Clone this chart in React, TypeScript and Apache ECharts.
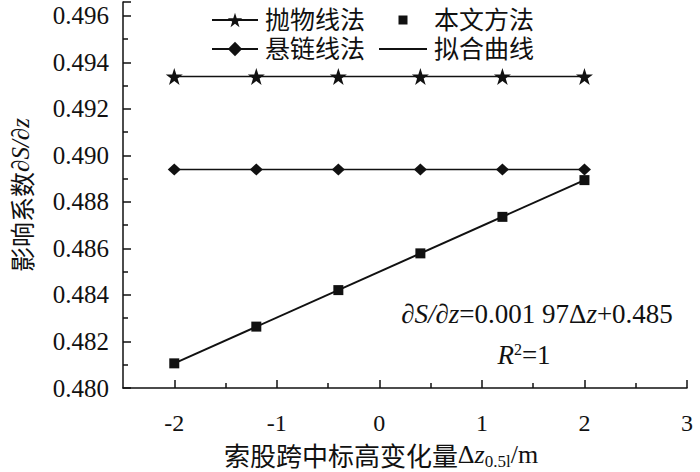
import React, { useEffect, useRef } from "react";
import * as echarts from "echarts";

const xValues = [-2, -1.2, -0.4, 0.4, 1.2, 2];
const parabolaValues = [0.4934, 0.4934, 0.4934, 0.4934, 0.4934, 0.4934];
const catenaryValues = [0.4894, 0.4894, 0.4894, 0.4894, 0.4894, 0.4894];
const methodValues = [0.48106, 0.48264, 0.48421, 0.48579, 0.48736, 0.48894];
const fitX = [-2, 2];
const fitValues = [0.48106, 0.48894];
const xMajorTicks = [-2, -1, 0, 1, 2, 3];
const xMinorTicks = [-1.5, -0.5, 0.5, 1.5, 2.5];

const SERIF = "'Liberation Serif', 'Times New Roman', 'Noto Sans CJK SC', serif";
const CJK = "'Noto Sans CJK SC', 'Liberation Serif', serif";

const pair = (xs: number[], ys: number[]) => xs.map((x, i) => [x, ys[i]]);

export default function App() {
  const ref = useRef<HTMLDivElement>(null);
  useEffect(() => {
    const chart = echarts.init(ref.current!, null, { renderer: "svg" });
    const black = "#111";
    const legendText = { fontFamily: SERIF, fontSize: 25, lineHeight: 26, color: black, padding: [0, 0, 0, 2] };
    chart.setOption({
      animation: false,
      backgroundColor: "#fff",
      grid: { left: 114, right: 13, top: 2, bottom: 84 },
      legend: [
        {
          data: ["抛物线法", "悬链线法"],
          orient: "vertical",
          left: 206,
          top: 2,
          itemWidth: 46,
          itemHeight: 18,
          itemGap: 3,
          textStyle: legendText,
        },
        {
          data: [
            { name: "本文方法", icon: "path://M0,0 L10,0 L10,10 L0,10 Z" },
            { name: "拟合曲线", icon: "path://M0,0 L100,0 L100,4 L0,4 Z" },
          ],
          orient: "vertical",
          left: 374,
          top: 2,
          itemWidth: 48,
          itemHeight: 9,
          itemGap: 3,
          symbolKeepAspect: true,
          textStyle: legendText,
        },
      ],
      xAxis: [
        {
          type: "value",
          min: -2.5,
          max: 3,
          interval: 0.5,
          splitLine: { show: false },
          axisLine: { onZero: false, lineStyle: { color: black, width: 1.5 } },
          axisTick: {
            inside: true,
            length: 8,
            customValues: xMajorTicks,
            lineStyle: { color: black, width: 1.5 },
          },
          axisLabel: {
            margin: 23,
            fontFamily: SERIF,
            fontSize: 24,
            color: black,
            customValues: xMajorTicks,
            formatter: (v: number) => String(v),
          },
        },
        {
          type: "value",
          min: -2.5,
          max: 3,
          interval: 0.5,
          position: "bottom",
          splitLine: { show: false },
          axisLine: { show: false, onZero: false },
          axisTick: {
            inside: true,
            length: 5,
            customValues: xMinorTicks,
            lineStyle: { color: black, width: 1.5 },
          },
          axisLabel: { show: false },
        },
      ],
      yAxis: {
        type: "value",
        min: 0.48,
        max: 0.4966,
        interval: 0.002,
        splitLine: { show: false },
        axisLine: { onZero: false, lineStyle: { color: black, width: 1.5 } },
        axisTick: { inside: true, length: 8, lineStyle: { color: black, width: 1.5 } },
        minorTick: { show: true, splitNumber: 2, length: 5, lineStyle: { color: black, width: 1.5 } },
        axisLabel: {
          margin: 14,
          fontFamily: SERIF,
          fontSize: 25,
          color: black,
          showMaxLabel: false,
          formatter: (v: number) => v.toFixed(3),
        },
        name: "{cn|影响系数}{i|∂S/∂z}",
        nameLocation: "middle",
        nameGap: 90,
        nameTextStyle: {
          rich: {
            cn: { fontFamily: CJK, fontSize: 25, color: black },
            i: { fontFamily: SERIF, fontSize: 25, fontStyle: "italic", color: black },
          },
        },
      },
      series: [
        {
          name: "抛物线法",
          type: "line",
          data: pair(xValues, parabolaValues),
          symbol: "path://M50,0 L61.8,35.3 L99,35.3 L69,57.3 L80.4,92.7 L50,70.8 L19.6,92.7 L31,57.3 L1,35.3 L38.2,35.3 Z",
          symbolSize: 17,
          itemStyle: { color: black },
          lineStyle: { color: black, width: 1.5 },
          z: 3,
        },
        {
          name: "悬链线法",
          type: "line",
          data: pair(xValues, catenaryValues),
          symbol: "diamond",
          symbolSize: [13, 12],
          itemStyle: { color: black },
          lineStyle: { color: black, width: 1.5 },
          z: 3,
        },
        {
          name: "本文方法",
          type: "scatter",
          data: pair(xValues, methodValues),
          symbol: "rect",
          symbolSize: 10,
          itemStyle: { color: black, opacity: 1 },
          z: 4,
        },
        {
          name: "拟合曲线",
          type: "line",
          data: pair(fitX, fitValues),
          symbol: "none",
          itemStyle: { color: black },
          lineStyle: { color: black, width: 2 },
          z: 2,
        },
      ],
      graphic: [
        {
          type: "text",
          x: 381,
          y: 454,
          style: {
            text: "{cn|索股跨中标高变化量}{n|Δ}{i|z}{sub|0.5l}{n|/m}",
            align: "center",
            verticalAlign: "middle",
            rich: {
              cn: { fontFamily: CJK, fontSize: 26, fill: black },
              n: { fontFamily: SERIF, fontSize: 26, fill: black },
              i: { fontFamily: SERIF, fontSize: 26, fontStyle: "italic", fill: black },
              sub: { fontFamily: SERIF, fontSize: 17, fill: black, verticalAlign: "bottom", padding: [14, 0, 0, 0] },
            },
          },
        },
        {
          type: "text",
          x: 537,
          y: 314,
          style: {
            text: "{i|∂S/∂z}{n|=0.001 97Δ}{i|z}{n|+0.485}",
            align: "center",
            verticalAlign: "middle",
            rich: {
              i: { fontFamily: SERIF, fontSize: 27, fontStyle: "italic", fill: black },
              n: { fontFamily: SERIF, fontSize: 27, fill: black },
            },
          },
        },
        {
          type: "text",
          x: 524,
          y: 355,
          style: {
            text: "{i|R}{sup|2}{n|=1}",
            align: "center",
            verticalAlign: "middle",
            rich: {
              i: { fontFamily: SERIF, fontSize: 27, fontStyle: "italic", fill: black },
              n: { fontFamily: SERIF, fontSize: 27, fill: black },
              sup: { fontFamily: SERIF, fontSize: 16, fill: black, verticalAlign: "top", padding: [0, 0, 12, 0] },
            },
          },
        },
      ],
    });
    return () => chart.dispose();
  }, []);
  return <div ref={ref} style={{ width: 700, height: 472, position: "absolute", left: 0, top: 0 }} />;
}
